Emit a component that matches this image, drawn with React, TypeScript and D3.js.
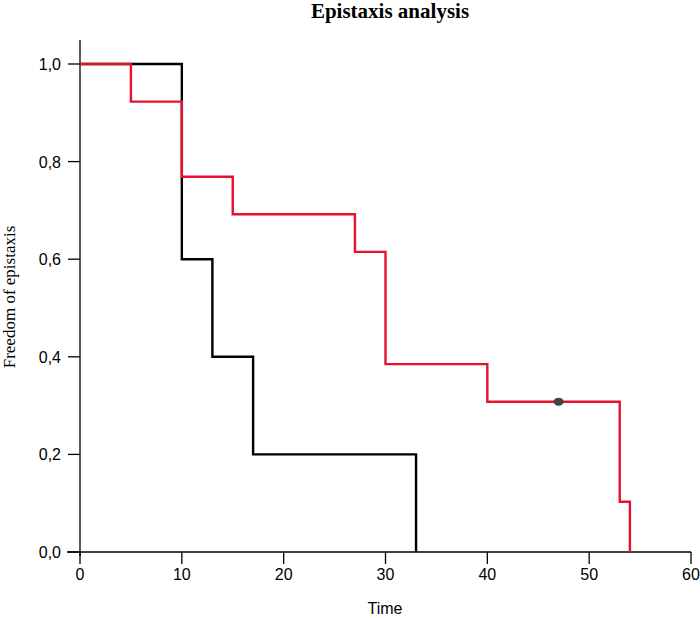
import React from "react";
import * as d3 from "d3";

const redTimes = [0, 5, 10, 15, 27, 30, 40, 53, 54];
const redSurv = [1.0, 0.923, 0.769, 0.692, 0.615, 0.385, 0.308, 0.103, 0.0];
const blackTimes = [0, 10, 13, 17, 33];
const blackSurv = [1.0, 0.6, 0.4, 0.2, 0.0];
const censorTimes = [47];
const censorSurv = [0.308];
const xTicks = [0, 10, 20, 30, 40, 50, 60];
const yTicks = [0, 0.2, 0.4, 0.6, 0.8, 1.0];

export default function App() {
  const W = 700, H = 618;
  const x = d3.scaleLinear().domain([0, 60]).range([80, 691]);
  const y = d3.scaleLinear().domain([0, 1]).range([552, 64]);
  const line = d3.line<[number, number]>().x(d => x(d[0])).y(d => y(d[1])).curve(d3.curveStepAfter);
  const redPts: [number, number][] = redTimes.map((t, i) => [t, redSurv[i]]);
  const blackPts: [number, number][] = blackTimes.map((t, i) => [t, blackSurv[i]]);
  const fmt = (v: number) => v.toFixed(1).replace(".", ",");
  const sans = "'Liberation Sans', Arial, sans-serif";
  const serif = "'Liberation Serif', 'Times New Roman', serif";
  return (
    <svg width={W} height={H} style={{ position: "absolute", left: 0, top: 0, background: "#fff" }}>
      <text x={390} y={18} textAnchor="middle" fontFamily={serif} fontWeight="bold" fontSize={21}>Epistaxis analysis</text>
      {/* axes */}
      <line x1={80} x2={80} y1={40} y2={556} stroke="#000" strokeWidth={1.3} />
      <line x1={67} x2={691} y1={552} y2={552} stroke="#000" strokeWidth={1.3} />
      {yTicks.map(t => (
        <g key={"y" + t}>
          <line x1={68} x2={80} y1={y(t)} y2={y(t)} stroke="#000" strokeWidth={1.3} />
          <text x={61} y={y(t) + 6} textAnchor="end" fontFamily={sans} fontSize={16}>{fmt(t)}</text>
        </g>
      ))}
      {xTicks.map(t => (
        <g key={"x" + t}>
          <line x1={x(t)} x2={x(t)} y1={552} y2={564} stroke="#000" strokeWidth={1.3} />
          <text x={x(t)} y={580} textAnchor="middle" fontFamily={sans} fontSize={16}>{t}</text>
        </g>
      ))}
      <text x={385} y={614} textAnchor="middle" fontFamily={sans} fontSize={16}>Time</text>
      <text transform={`translate(15,297) rotate(-90)`} textAnchor="middle" fontFamily={serif} fontSize={17}>Freedom of epistaxis</text>
      <path d={line(blackPts) || ""} fill="none" stroke="#000" strokeWidth={2.4} />
      <path d={line(redPts) || ""} fill="none" stroke="#e8112d" strokeWidth={2.4} />
      {censorTimes.map((t, i) => (
        <ellipse key={"c" + i} cx={x(t)} cy={y(censorSurv[i])} rx={5} ry={4} fill="#444" />
      ))}
    </svg>
  );
}
